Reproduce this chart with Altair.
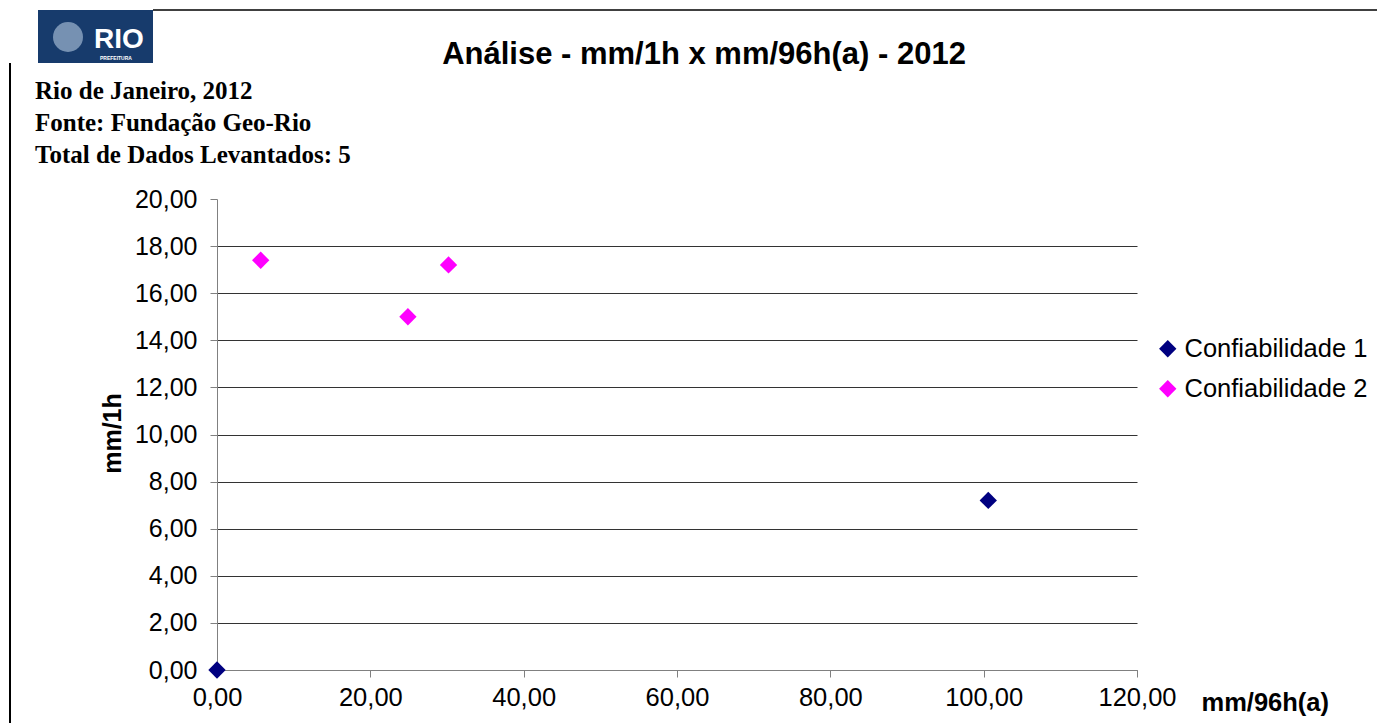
import altair as alt
import pandas as pd

# Data
x_vals = [0.0, 100.6, 5.7, 24.9, 30.2]
y_vals = [0.0, 7.2, 17.4, 15.0, 17.2]
series = ["Confiabilidade 1", "Confiabilidade 1", "Confiabilidade 2", "Confiabilidade 2", "Confiabilidade 2"]
series_names = ["Confiabilidade 1", "Confiabilidade 2"]
series_colors = ["#000080", "#FF00FF"]
x_ticks = [0, 20, 40, 60, 80, 100, 120]
y_ticks = [0, 2, 4, 6, 8, 10, 12, 14, 16, 18, 20]

title_text = "Análise - mm/1h x mm/96h(a) - 2012"
info_lines = ["Rio de Janeiro, 2012", "Fonte: Fundação Geo-Rio", "Total de Dados Levantados: 5"]

df = pd.DataFrame({"x": x_vals, "y": y_vals, "serie": series})
one = pd.DataFrame({"a": [0]})

label_expr = "replace(format(datum.value, '.2f'), '.', ',')"
SANS = "Liberation Sans"
SERIF = "Liberation Serif"

points = alt.Chart(df).mark_point(shape="diamond", filled=True, size=300, opacity=1, clip=False).encode(
    x=alt.X("x:Q", scale=alt.Scale(domain=[0, 120], nice=False),
            axis=alt.Axis(values=x_ticks, labelExpr=label_expr, grid=False,
                          domainColor="#808080", tickColor="#808080", tickSize=7,
                          labelFont=SANS, labelFontSize=25.5, labelColor="#000000",
                          labelPadding=8, labelFlush=False,
                          title="mm/96h(a)", titleFont=SANS, titleFontSize=25.5,
                          titleFontWeight="bold", titleColor="#000000",
                          titleAlign="left", titleBaseline="alphabetic",
                          titleX=984, titleY=40, titleAnchor="start")),
    y=alt.Y("y:Q", scale=alt.Scale(domain=[0, 20], nice=False),
            axis=alt.Axis(values=y_ticks, labelExpr=label_expr, grid=True,
                          gridColor="#333333", gridWidth=1,
                          gridOpacity={"condition": {"test": "datum.value === 20", "value": 0}, "value": 1},
                          domainColor="#808080", tickColor="#808080", tickSize=7,
                          labelFont=SANS, labelFontSize=25, labelColor="#000000",
                          labelPadding=13, labelFlush=False,
                          title="mm/1h", titleFont=SANS, titleFontSize=25,
                          titleFontWeight="bold", titleColor="#000000",
                          titleAngle=-90, titleAlign="center", titleBaseline="alphabetic",
                          titleX=-97, titleY=234)),
    color=alt.Color("serie:N", scale=alt.Scale(domain=series_names, range=series_colors),
                    legend=alt.Legend(title=None, orient="none", legendX=938, legendY=137,
                                      symbolType="diamond", symbolSize=300, symbolStrokeWidth=0,
                                      labelFont=SANS, labelFontSize=25.5, labelColor="#000000",
                                      labelLimit=400, rowPadding=13, labelOffset=4)),
)

title = alt.Chart(one).mark_text(text=title_text, font=SANS, fontSize=31, fontWeight="bold",
                                 align="center", baseline="alphabetic", color="#000000").encode(
    x=alt.value(487), y=alt.value(-135))

info = alt.layer(*[
    alt.Chart(one).mark_text(text=t, font=SERIF, fontSize=25, fontWeight="bold",
                             align="left", baseline="alphabetic", color="#000000").encode(
        x=alt.value(-182), y=alt.value(-100 + 32 * i))
    for i, t in enumerate(info_lines)
])

frame_top = alt.Chart(one).mark_rule(color="#000000", strokeWidth=1.5).encode(
    x=alt.value(153 - 217), x2=alt.value(1377 - 217), y=alt.value(10 - 199))
frame_left = alt.Chart(one).mark_rule(color="#000000", strokeWidth=2).encode(
    x=alt.value(10 - 217), y=alt.value(63 - 199), y2=alt.value(723 - 199))

logo_bg = alt.Chart(one).mark_rect(color="#173b6c").encode(
    x=alt.value(38 - 217), x2=alt.value(153 - 217), y=alt.value(10 - 199), y2=alt.value(63 - 199))
logo_emblem = alt.Chart(one).mark_point(shape="circle", filled=True, size=900, color="#8fa7c4", opacity=0.8).encode(
    x=alt.value(68 - 217), y=alt.value(37 - 199))
logo_text = alt.Chart(one).mark_text(text="RIO", font=SANS, fontSize=28, fontWeight="bold",
                                     align="left", baseline="alphabetic", color="#ffffff").encode(
    x=alt.value(94 - 217), y=alt.value(48 - 199))
logo_sub = alt.Chart(one).mark_text(text="PREFEITURA", font=SANS, fontSize=5, fontWeight="bold",
                                    align="left", baseline="alphabetic", color="#ffffff").encode(
    x=alt.value(100 - 217), y=alt.value(60 - 199))

chart = alt.layer(points, title, info, frame_top, frame_left, logo_bg, logo_emblem, logo_text, logo_sub).properties(
    width=920, height=471,
    padding={"left": 217, "top": 199, "right": 240, "bottom": 53},
    autosize=alt.AutoSizeParams(type="none"),
    background="#ffffff",
).configure_view(stroke=None)

chart.save("out.html", embed_options={"renderer": "svg", "actions": False})
